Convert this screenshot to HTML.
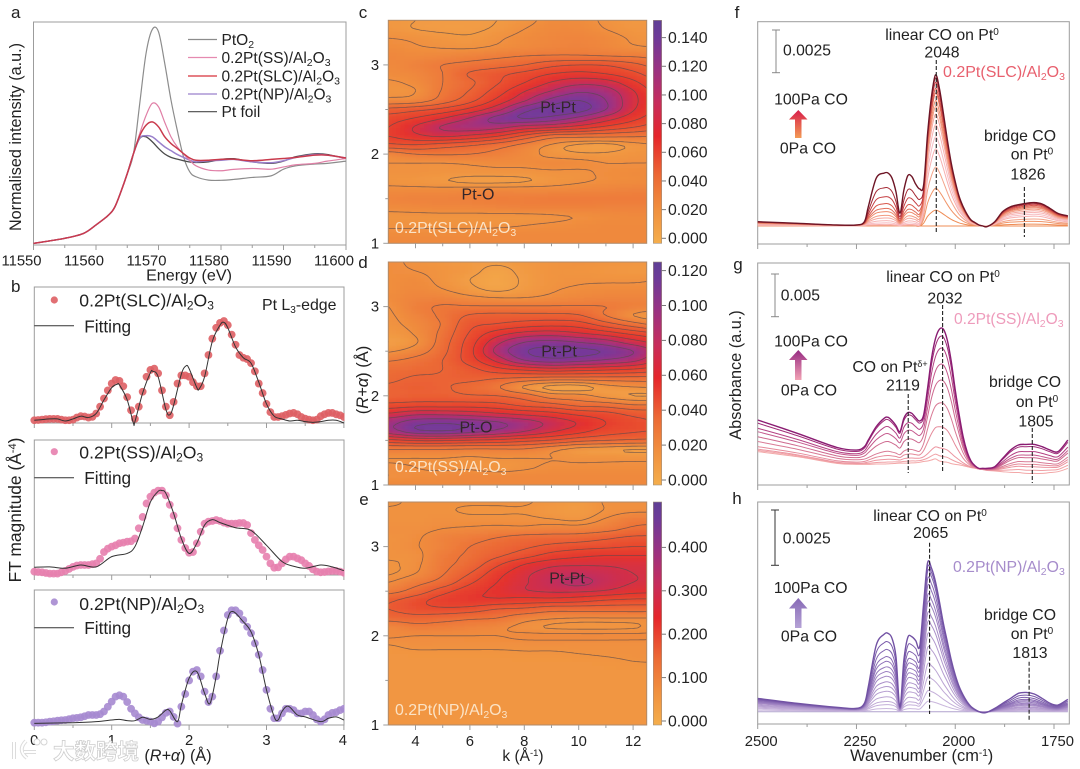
<!DOCTYPE html>
<html lang="en">
<head>
<meta charset="utf-8">
<title>Pt/Al2O3 XAFS and CO-DRIFTS figure</title>
<style>
html,body{margin:0;padding:0;background:#fff;}
svg{display:block;font-size:15.5px;}
text{font-family:"Liberation Sans","Noto Sans CJK SC",sans-serif;fill:#222;}
.mid{text-anchor:middle;}
.tick{font-size:14.8px;}
.cb{font-size:15.8px;}
.peak{font-size:16px;text-anchor:middle;fill:#33262a;}
.inlabel{font-size:15.9px;fill:#fbe3c6;}
.letter{font-size:17px;text-anchor:middle;}
.ann{font-size:15.8px;text-anchor:middle;}
</style>
</head>
<body>
<svg id="fig" xmlns="http://www.w3.org/2000/svg" width="1080" height="769" viewBox="0 0 1080 769">
<defs>
<filter id="soft" x="-5%" y="-5%" width="110%" height="110%"><feGaussianBlur stdDeviation="1.4"/></filter>
<clipPath id="clip-c"><rect x="388.3" y="20.3" width="258.4" height="223"/></clipPath>
<clipPath id="clip-d"><rect x="388.3" y="262" width="258.4" height="223"/></clipPath>
<clipPath id="clip-e"><rect x="388.3" y="502" width="258.4" height="223"/></clipPath>
<clipPath id="clip-b"><rect x="30" y="280" width="314.5" height="460"/></clipPath>
<clipPath id="clip-spec"><rect x="757.7" y="15" width="311.6" height="720"/></clipPath>
<linearGradient id="arrow-f" x1="0" y1="0" x2="0" y2="1"><stop offset="0" stop-color="#D81E4A"/><stop offset="1" stop-color="#F29A55"/></linearGradient>
<linearGradient id="arrow-g" x1="0" y1="0" x2="0" y2="1"><stop offset="0" stop-color="#962A82"/><stop offset="1" stop-color="#F2A2B4"/></linearGradient>
<linearGradient id="arrow-h" x1="0" y1="0" x2="0" y2="1"><stop offset="0" stop-color="#876AB6"/><stop offset="1" stop-color="#B5A2D6"/></linearGradient>
</defs>

<!-- panel letters -->
<text class="letter" x="15.7" y="18">a</text>
<text class="letter" x="15.7" y="292">b</text>
<text class="letter" x="363" y="18">c</text>
<text class="letter" x="363" y="268">d</text>
<text class="letter" x="364" y="505">e</text>
<text class="letter" x="737" y="18">f</text>
<text class="letter" x="738" y="270">g</text>
<text class="letter" x="737" y="504">h</text>

<g id="panel-a"></g>
<g id="panel-b"></g>
<g id="panel-c"></g>
<g id="panel-d"></g>
<g id="panel-e"></g>
<g id="panel-f"></g>
<g id="panel-g"></g>
<g id="panel-h"></g>

<!-- panel a text -->
<text class="mid" x="189" y="280.5" font-size="16.1">Energy (eV)</text>
<text class="mid" font-size="16.2" transform="translate(21,137) rotate(-90)">Normalised intensity (a.u.)</text>
<g>
<line x1="188" x2="217" y1="39.5" y2="39.5" stroke="#8c8c8c" stroke-width="1.2"/>
<text x="221.5" y="45">PtO<tspan dy="3" font-size="10.5">2</tspan></text>
<line x1="188" x2="217" y1="57.5" y2="57.5" stroke="#E58AB0" stroke-width="1.2"/>
<text x="221.5" y="63">0.2Pt(SS)/Al<tspan dy="3" font-size="10.5">2</tspan><tspan dy="-3">O</tspan><tspan dy="3" font-size="10.5">3</tspan></text>
<line x1="188" x2="217" y1="76" y2="76" stroke="#D8303A" stroke-width="1.2"/>
<text x="221.5" y="81.5">0.2Pt(SLC)/Al<tspan dy="3" font-size="10.5">2</tspan><tspan dy="-3">O</tspan><tspan dy="3" font-size="10.5">3</tspan></text>
<line x1="188" x2="217" y1="94" y2="94" stroke="#9A80CC" stroke-width="1.2"/>
<text x="221.5" y="99.5">0.2Pt(NP)/Al<tspan dy="3" font-size="10.5">2</tspan><tspan dy="-3">O</tspan><tspan dy="3" font-size="10.5">3</tspan></text>
<line x1="188" x2="217" y1="111.7" y2="111.7" stroke="#4a4a4a" stroke-width="1.2"/>
<text x="221.5" y="117">Pt foil</text>
</g>

<!-- panel b text -->
<text x="79.3" y="306.5" font-size="17.6">0.2Pt(SLC)/Al<tspan dy="3" font-size="12">2</tspan><tspan dy="-3">O</tspan><tspan dy="3" font-size="12">3</tspan></text>
<text x="84.3" y="332.5" font-size="17.2">Fitting</text>
<text x="262" y="310" font-size="15.9">Pt L<tspan dy="3" font-size="10">3</tspan><tspan dy="-3">-edge</tspan></text>
<text x="79.3" y="458.5" font-size="17.6">0.2Pt(SS)/Al<tspan dy="3" font-size="12">2</tspan><tspan dy="-3">O</tspan><tspan dy="3" font-size="12">3</tspan></text>
<text x="84.3" y="484" font-size="17.2">Fitting</text>
<text x="79.3" y="610" font-size="17.6">0.2Pt(NP)/Al<tspan dy="3" font-size="12">2</tspan><tspan dy="-3">O</tspan><tspan dy="3" font-size="12">3</tspan></text>
<text x="84.3" y="634" font-size="17.2">Fitting</text>
<text class="mid" x="178" y="761" font-size="16.2">(<tspan font-style="italic">R+α</tspan>) (Å)</text>
<text class="mid" font-size="17.4" transform="translate(21,510) rotate(-90)">FT magnitude (Å<tspan dy="-5" font-size="11">-4</tspan><tspan dy="5">)</tspan></text>

<!-- heatmap text -->
<g id="heat-labels">
<text class="peak" x="558" y="112.5">Pt-Pt</text>
<text class="peak" x="478" y="199.5">Pt-O</text>
<text class="inlabel" x="395" y="233">0.2Pt(SLC)/Al<tspan dy="3" font-size="10.5">2</tspan><tspan dy="-3">O</tspan><tspan dy="3" font-size="10.5">3</tspan></text>
<text class="peak" x="559" y="356.5">Pt-Pt</text>
<text class="peak" x="476" y="432.5">Pt-O</text>
<text class="inlabel" x="395" y="472">0.2Pt(SS)/Al<tspan dy="3" font-size="10.5">2</tspan><tspan dy="-3">O</tspan><tspan dy="3" font-size="10.5">3</tspan></text>
<text class="peak" x="567" y="583.5">Pt-Pt</text>
<text class="inlabel" x="395" y="715">0.2Pt(NP)/Al<tspan dy="3" font-size="10.5">2</tspan><tspan dy="-3">O</tspan><tspan dy="3" font-size="10.5">3</tspan></text>
<text class="mid" transform="translate(368,380) rotate(-90)" font-size="16.5">(<tspan font-style="italic">R+α</tspan>) (Å)</text>
<text class="mid" x="523" y="761" font-size="15.5">k (Å<tspan dy="-5" font-size="9.5">-1</tspan><tspan dy="5">)</tspan></text>
</g>

<!-- panel f annotations -->
<g>
<line x1="776" x2="776" y1="30" y2="72.7" stroke="#888"/>
<line x1="772" x2="780" y1="30" y2="30" stroke="#888"/>
<line x1="772" x2="780" y1="72.7" y2="72.7" stroke="#888"/>
<text x="783" y="55.5" font-size="15.7">0.0025</text>
<text class="ann" x="811" y="104.5">100Pa CO</text>
<path d="M798.3 110 L807.5 119.5 L801.5 119.5 L801.5 138 L795 138 L795 119.5 L789 119.5 Z" fill="url(#arrow-f)"/>
<text class="ann" x="808" y="153.5">0Pa CO</text>
<text class="ann" x="942" y="40">linear CO on Pt<tspan dy="-5" font-size="10">0</tspan></text>
<text class="ann" x="942" y="57.5">2048</text>
<text x="943" y="77" font-size="16" style="fill:#E8606E">0.2Pt(SLC)/Al<tspan dy="3" font-size="10.5">2</tspan><tspan dy="-3">O</tspan><tspan dy="3" font-size="10.5">3</tspan></text>
<text class="ann" x="1020" y="141">bridge CO</text>
<text class="ann" x="1032" y="159.5">on Pt<tspan dy="-5" font-size="10">0</tspan></text>
<text class="ann" x="1028" y="179.5">1826</text>
</g>

<!-- panel g annotations -->
<g>
<line x1="775" x2="775" y1="274" y2="316.7" stroke="#888"/>
<line x1="771" x2="779" y1="274" y2="274" stroke="#888"/>
<line x1="771" x2="779" y1="316.7" y2="316.7" stroke="#888"/>
<text x="780.7" y="300.5" font-size="15.7">0.005</text>
<text class="ann" x="811" y="346.5">100Pa CO</text>
<path d="M798.3 350 L807.5 360 L801.5 360 L801.5 380 L795 380 L795 360 L789 360 Z" fill="url(#arrow-g)"/>
<text class="ann" x="809" y="395.5">0Pa CO</text>
<text class="ann" x="943" y="282">linear CO on Pt<tspan dy="-5" font-size="10">0</tspan></text>
<text class="ann" x="945" y="303.5">2032</text>
<text x="954" y="324" font-size="15.6" style="fill:#EE9BBB">0.2Pt(SS)/Al<tspan dy="3" font-size="10.5">2</tspan><tspan dy="-3">O</tspan><tspan dy="3" font-size="10.5">3</tspan></text>
<text class="ann" x="890" y="372">CO on Pt<tspan dy="-5" font-size="9">δ+</tspan></text>
<text class="ann" x="903" y="390.5">2119</text>
<text class="ann" x="1025" y="387">bridge CO</text>
<text class="ann" x="1037" y="407">on Pt<tspan dy="-5" font-size="10">0</tspan></text>
<text class="ann" x="1036" y="426.5">1805</text>
<text class="mid" transform="translate(741,375) rotate(-90)" font-size="16.3">Absorbance (a.u.)</text>
</g>

<!-- panel h annotations -->
<g>
<line x1="775" x2="775" y1="510" y2="565.3" stroke="#333"/>
<line x1="771" x2="779" y1="510" y2="510" stroke="#333"/>
<line x1="771" x2="779" y1="565.3" y2="565.3" stroke="#333"/>
<text x="782.7" y="543.5" font-size="15.7">0.0025</text>
<text class="ann" x="810.7" y="593">100Pa CO</text>
<path d="M798.3 598 L807.5 608.5 L801.5 608.5 L801.5 628 L795 628 L795 608.5 L789 608.5 Z" fill="url(#arrow-h)"/>
<text class="ann" x="809" y="641.5">0Pa CO</text>
<text class="ann" x="930" y="521">linear CO on Pt<tspan dy="-5" font-size="10">0</tspan></text>
<text class="ann" x="930.7" y="538">2065</text>
<text x="953" y="572" font-size="15.8" style="fill:#A68CCB">0.2Pt(NP)/Al<tspan dy="3" font-size="10.5">2</tspan><tspan dy="-3">O</tspan><tspan dy="3" font-size="10.5">3</tspan></text>
<text class="ann" x="1020" y="620">bridge CO</text>
<text class="ann" x="1032" y="639">on Pt<tspan dy="-5" font-size="10">0</tspan></text>
<text class="ann" x="1030" y="658">1813</text>
<text class="mid" x="921.7" y="761" font-size="16.4">Wavenumber (cm<tspan dy="-5" font-size="10">-1</tspan><tspan dy="5">)</tspan></text>
</g>

<!-- watermark -->
<g id="watermark">
<path d="M14 742 L14 759 M26 741 Q17 750 27 758 M24 752 L36 752" fill="none" stroke="#dcdcdc" stroke-width="4"/>
<path d="M14 742 L14 759 M26 741 Q17 750 27 758 M24 752 L36 752" fill="none" stroke="#fff" stroke-width="2"/>
<circle cx="37" cy="742" r="3" fill="#fff" stroke="#d5d5d5"/>
<circle cx="44" cy="742" r="3" fill="#fff" stroke="#d5d5d5"/>
<text x="53" y="759" font-size="21.5" font-weight="700" style='font-family:"Noto Sans CJK SC",sans-serif;fill:#fff;stroke:#cfcfcf;stroke-width:.8'>大数跨境</text>
</g>
</svg>

<script>
/* ---------- panel a data: energy (eV) and normalised intensity (% of axis height) ---------- */
const aEnergy=[11550,11555,11558,11560,11562,11563,11564,11565,11566,11567,11568,11569,11570,11571,11572,11573,11574,11575,11576,11578,11580,11582,11585,11588,11590,11592,11595,11597,11600];
const aPtO2=[0.7,3,5.2,9,13.4,17,24,32,41,63.5,85.8,96.6,95.6,81.4,65,51.5,39.6,32.8,30.6,29.1,29,29.4,30.3,31,34,35.5,36.3,36.6,37.6];
const aSS=[0.7,3,5.2,9,13.4,17,24,32,41,50,58,63.5,62,55,48.5,44,40.8,38,35.5,33.6,33.3,33.9,34.3,34,35,36,36.6,37.6,38.8];
const aSLC=[0.7,3,5.2,9,13.4,17,24,32,41,49,53.7,55.2,53,48.5,45.5,43.3,41,39,38,38,38.4,38.5,37.8,38.4,38.8,39.3,40.3,40.3,39];
const aNP=[0.7,3,5.2,9,13.4,17,24,32,41,48,49,48.5,46.3,44,42.3,40.6,39.3,38,37.3,37.8,38,38.4,37.3,36.9,37.8,39.3,40.6,40.3,39];
const aFoil=[0.7,3,5.2,9,13.4,17,24,32,41,47.8,48.5,46.3,43.3,40.8,39.3,38.5,37.8,37.2,37,37.3,38.4,38.7,37.3,36.6,37.6,39.6,40.9,40.6,38.8];
const aTickMajor=[11550,11560,11570,11580,11590,11600];
const aTickMinor=[11555,11565,11575,11585,11595];

/* ---------- panel b data: R (Å) and FT magnitude (% of sub-panel height) ---------- */
const bDotSLC=[2,2.2,2.5,2.8,3,3,3,2.5,2,2,2.5,4,5,4.8,4,4.5,7,12,18,24,29,31.6,31,27,19,9.4,3,12,23,34,39,40,36.5,24,12,5.7,15.5,29,35,35,34,30,27,27,36.5,50,62,70,73.6,75,72,65,57.5,50,48,47,44,38,29,22,14,8,4.4,4.4,5,6,7,7.4,6.4,4.4,3.2,2.5,2,2.5,5,6.4,7.4,7.4,6.4,5.7,4.4];
const bDotSS=[2.5,2.2,2,1.5,1,1,1,2,3,4.5,6,7,7.4,7.4,7.4,8,8.6,12,17,19.5,21,22,23.5,24,24.7,25,27,34.6,43,53,58,61,62.5,62.5,59,52,44,34.6,26,20,16.5,17,23.5,32,38,39.5,40,40.7,40,38.8,38,38,38,38.5,38.5,37,31,26,22,18.5,13.6,8.6,5.4,5.7,8.6,11.6,13.6,13.6,12.3,11,8.6,6.7,4.2,2.5,2,2.2,2.7,3,3,2.5,1.7];
const bDotNP=[1.7,1.7,1.7,2,2.5,2.8,3.2,3.5,3.7,4.3,5,5.3,5.7,6.5,7.4,7.4,7.4,8,10,13.5,17.3,21,22,21,17,12,8.6,5.7,3.7,3.2,2.5,1.2,2.5,5.7,9,10,6,1,13.6,23,33,39.5,40.7,36,24.7,17,21,36,55,70,81.5,85,85,82.7,77.8,72.8,68,60.5,52,40.7,26,12,5,5,8.6,12,12,11,8.6,8.6,10,10,7.4,4.2,2.5,4.2,7.4,9,9.5,11,12];
const bFitRSLC=[0,.1,.2,.3,.4,.5,.6,.7,.8,.9,1,1.07,1.1,1.2,1.28,1.3,1.4,1.5,1.53,1.6,1.7,1.75,1.8,1.9,1.96,2,2.1,2.13,2.2,2.3,2.4,2.45,2.5,2.6,2.7,2.8,2.9,3,3.1,3.2,3.3,3.4,3.5,3.6,3.7,3.8,3.9,4];
const bFitSLC=[2,2.5,3,3,1.5,3,5,4,7,17,26,28.5,28,17,0,1,22,37,38,34,10,6,13,36,42,40,26,25,34,60,72,74,70,56,48,44,30,14,5,3,1.5,2,1,.5,1,2,2,0];
const bFitRSS=[0,.2,.4,.6,.8,1,1.2,1.3,1.4,1.5,1.6,1.65,1.7,1.8,1.9,2,2.1,2.2,2.3,2.4,2.6,2.8,3,3.2,3.35,3.5,3.7,3.85,4];
const bFitSS=[5.7,6,5,7.4,6,13.6,16,21,36,54,62,62.5,60.5,45.7,27,16,23.5,37,41,38.8,35,33,22,10,6.5,5,7.4,6,3.2];
const bFitRNP=[0,.5,.8,1,1.1,1.2,1.3,1.4,1.5,1.6,1.7,1.75,1.85,1.9,2,2.1,2.2,2.27,2.35,2.4,2.5,2.57,2.7,2.8,2.9,3,3.1,3.15,3.2,3.28,3.4,3.5,3.7,3.8,3.9,4];
const bFitNP=[1.2,1.7,2.5,3.7,4.2,3.2,3.2,5.7,4.2,6,11,10.5,2.5,14.8,34.6,39.5,23.5,16,36,53,79,84,76.5,69,52,26,6,3.7,10,14,7.4,6,2.5,5,6,3.7];
const bTickMajor=[0,1,2,3,4];
const bTickMinor=[.5,1.5,2.5,3.5];

/* ---------- wavelet data: rows R = 3.5 … 1.0 (step 0.1), columns k = 3 … 13; values in % of colour-bar maximum ---------- */
const heatC=[
[11,10,9,9,10,13,17,17,14,11,11],
[12,10,9,9,11,15,18,18,15,12,12],
[15,14,12,11,14,17,19,20,18,14,12],
[17,15.5,14.5,14,16,18,20,21,19,16,15],
[19,18,19,21,23,25,26,26,25,24,22],
[18,21,25,28,31,35,42,45,44,38,30],
[17,19,25,36,42,48,55,58,55,48,38],
[14,17,25,33,44,55,66,72,70,58,45],
[13,15,26,36,50,65,76,84,80,66,50],
[18,20,30,42,58,74,88,93,85,68,54],
[38,42,48,58,72,90,96,96,85,66,52],
[50,56,65,76,88,93,90,82,70,58,48],
[55,66,76,80,78,70,66,60,52,45,38],
[55,62,66,62,55,42,30,28,27,26,25],
[42,44,40,36,30,22,14,9,8,12,15],
[20,25,26,25,22,18,13,11,11,13,14],
[15,15,15,16,17,17,18,17,15,15,15],
[14,14,13,13,13,13,14,14,16,17,18],
[13,12,10.5,8.5,8.5,9.5,12,14,16,17,18],
[17,17,17,18,18,18,18,19,20,21,21],
[20,21,21,22,23,23,24,24,24,24,24],
[17,18,19,19,20,21,21,21,21,21,21],
[13,13,13,13,13,13,14,15.5,17,18,18],
[14,14,14,14,14,15,16,17,18,18,18],
[17,17,17,17,18,18,18,18,18,18,18],
[18,18,18,18,18,18,18,18,18,18,18]];
const heatD=[
[16,14,12,10,9,11,13,14,13,12,12],
[16,15,13,10,6,10,13,13,12,11,11],
[16,17,13,8,5,9,13,14,14,14,15],
[16,18,15,10,6,10,14,16,17,17,17],
[17,20,20,17,15,15,17,19,20,20,20],
[15,22,26,26,26,26,26,26,25,22,20],
[14,20,27,36,38,38,38,36,25,15,10],
[13,18,26,42,46,50,52,50,40,30,22],
[11,16,28,46,60,68,70,66,60,52,45],
[8,14,30,50,72,85,88,85,80,70,62],
[14,20,32,52,78,92,95,95,92,85,72],
[24,28,35,50,68,85,90,88,84,78,65],
[30,32,35,42,52,58,62,60,58,55,50],
[33,36,36,38,36,34,32,32,32,32,32],
[36,38,36,32,26,14,6,5,12,15,16],
[36,38,38,36,35,30,20,18,12,8,8],
[48,50,50,50,48,42,38,32,30,25,25],
[66,72,72,70,66,62,58,52,48,42,40],
[82,90,92,90,86,80,72,64,55,48,45],
[80,90,92,88,82,75,66,58,50,46,44],
[52,56,56,54,52,48,44,38,35,33,32],
[25,25,25,24,24,24,18,12,10,8,8],
[15,15,15,14,15,15,15,14,14,14,14],
[16,15,14,14,12,14,16,16,16,16,16],
[15,16,17,18,18,18,18,18,18,18,18],
[18,18,18,18,18,18,18,18,18,18,18]];
const heatE=[
[13,14,14,14,14,14,12,10,14,15,15],
[14,14,14,13,13,13,11,10,14,16,16],
[14,14,15,15,15,15,14,13,18,24,24],
[15,15,17,18,19,19,21,21,24,30,32],
[14,16,21,24,28,32,33,34,38,42,42],
[14,16.5,21,28,33,38,43,46,48,50,50],
[14,15,24,30,38,46,54,58,60,60,60],
[13,15.5,25,33,48,60,66,67,67,66,66],
[13,17,27,40,56,66,71,73,71,68,67],
[17,24,33,48,60,67,73,77,72,68,66],
[24,33,46,56,62,67,69,69,67,63,62],
[38,46,54,58,58,56,56,54,50,48,48],
[40,46,48,46,40,38,33,33,33,33,33],
[33,35,33,30,28,21,18,17,17,17,17],
[19,24,23,21,19,15,13,12.5,12.5,13,15],
[18,17,17,17,17,18,18,18,18,18,18],
[13.5,15,15,15,15,15,15,15,15,15,15],
[12,12.5,12.5,12.5,12.5,13,13,13.5,14,14.5,15],
[12,12,12,12,12,12,12,12,12.5,13.3,13.5],
[12,12,12,12,12,12,12,12,12,12,12],
[12,12,12,12,12,12,12,12,12,12,12],
[12,12,12,12,12,12,12,12,12,12,12],
[12,12,12,12,12,12,12,12,12,12,12],
[12,12,12,12,12,12,12,12,12,12,12],
[12,12,12,12,12,12,12,12,12,12,12],
[12,12,12,12,12,12,12,12,12,12,12]];
const levelsC=[10,15,25,35,45,55,65,75,85,93];
const levelsD=[8,15,25,35,45,55,65,75,85,93];
const levelsE=[13.5,17,28,40,50,60,68,75];
const barTicksC=[0,0.02,0.04,0.06,0.08,0.1,0.12,0.14];
const barTicksD=[0,0.02,0.04,0.06,0.08,0.1,0.12];
const barTicksE=[0,0.1,0.2,0.3,0.4];
const barPos=[0,.15,.3,.48,.63,.78,.92,1];
const barCol=["#F4AE4C","#F0903F","#EC6A35","#E5262B","#C72D5C","#9A3282","#6F3A98","#5F3F96"];
const fieldPos=[0,.15,.3,.5,.62,.72,.82,.92,1];
const fieldCol=["#F4AE4C","#F0903F","#EC6F37","#E8482E","#E4322E","#C92E55","#A13080","#7A3898","#6A3C9A"];

/* ---------- DRIFTS data: wavenumber (cm-1), absorbance (milli-absorbance) ---------- */
const wn=[2500,2400,2300,2250,2230,2220,2200,2180,2170,2160,2150,2140,2130,2120,2110,2100,2090,2080,2070,2060,2050,2040,2030,2020,2010,2000,1990,1980,1970,1960,1950,1940,1930,1920,1900,1880,1860,1840,1820,1800,1780,1760,1740,1715];
const fFinal=[.25,.16,.06,.06,.25,1.13,2.8,3.1,3.1,2.8,2,.75,2.1,2.95,2.9,2.45,2.17,2.4,5.4,7.6,8.85,8.05,6.6,5.05,3.67,2.6,1.72,1.13,.68,.35,.2,.06,0,-.04,.25,.84,1.13,1.25,1.33,1.37,1.29,1.03,.74,.59];
const fWing=[1,.95,.9,.85,.8,.7,.6,.5,.4,.3,.2,.1,.05,.02,0];
const fGas=[1,.72,.55,.42,.33,.27,.2,.15,.1,.06,.03,.01,0,0,0];
const fLinear=[1,.98,.95,.91,.88,.83,.79,.74,.67,.59,.51,.39,.25,.105,0];
const fBridge=[1,.97,.93,.88,.83,.78,.72,.65,.58,.5,.42,.3,.2,.08,0];
const fColours=["#6E1525","#A52A35","#C53E42","#D8584C","#E2705C","#EE8A6B","#F29A80","#F5A8A0","#F7B5B5","#F7BEC4","#F8B0B0","#F3A48A","#F09468","#EF8C55","#EF8C55"];
const gFinal=[6.06,4.5,2.85,2.54,2.93,3.71,5.28,6.26,6.37,5.98,5.4,4.69,6.26,6.92,6.84,6.33,5.94,6.65,9.78,13.3,15.6,16.7,16.7,15.4,12.9,9.58,6.65,4.1,2.35,1.25,.7,.39,.39,.39,.59,1.56,2.54,3.13,3.2,3.2,2.93,2.54,2.35,3.71];
const gFirst=[2.35,1.76,.98,.86,.86,.86,.9,.9,.92,.94,.98,1,1,1,1.03,1.05,1.1,1.2,1.25,1.37,1.5,1.25,1.15,1.1,.95,.86,.8,.7,.6,.47,.4,.3,.25,.15,.08,0,-.08,-.1,-.2,-.2,-.2,-.1,0,.39];
const gWing=[1,.9,.74,.63,.47,.32,.16,.08,.04,0];
const gGas=[1,.95,.8,.65,.48,.27,.18,.1,.04,0];
const gLinear=[1,.94,.85,.73,.61,.44,.26,.1,.04,0];
const gBridge=[1,.92,.75,.63,.54,.4,.31,.23,.11,0];
const gColours=["#8A1C72","#A02C78","#B44284","#C4588C","#CE6A8F","#D97B96","#E58A9A","#EC95A0","#F0A0A5","#F3A8A8"];
const hFinal=[.6,.38,.2,.15,.38,1.13,3,3.5,3.54,3.31,2.48,.23,2.33,3.36,3.39,3.21,2.94,4.89,6.73,6.48,5.87,4.97,3.99,3.16,2.33,1.66,1.13,.75,.45,.23,.1,0,-.05,-.03,.15,.38,.6,.83,.87,.8,.6,.38,.3,.56];
const hWing=[1,.95,.9,.86,.8,.75,.7,.65,.6,.52,.45,.38,.3,.22,.12,0];
const hGas=[1,.89,.79,.7,.64,.57,.51,.45,.38,.32,.26,.19,.13,.09,.04,0];
const hLinear=[1,.97,.94,.89,.84,.78,.73,.66,.6,.52,.43,.32,.23,.14,.07,0];
const hBridge=[1,.86,.74,.64,.57,.5,.43,.38,.33,.26,.22,.17,.12,.09,.05,0];
const hColours=["#7252A4","#7A5BAA","#8163AF","#8869B3","#8F71B8","#9679BD","#9D81C1","#A488C5","#AB90C9","#B198CD","#B69ED0","#BBA4D3","#C0AAD6","#C5B0DA","#CAB7DD","#B0A2CE"];
const specTickMajor=[2500,2250,2000,1750];
const specTickMinor=[2375,2125,1875];

/* ---------- helpers ---------- */
const NS="http://www.w3.org/2000/svg";
const fig=document.getElementById("fig");
function node(tag,parent,attrs){
  const el=document.createElementNS(NS,tag);
  for(const a in attrs){el.setAttribute(a,attrs[a]);}
  parent.appendChild(el);
  return el;
}
function drawLine(parent,x1,y1,x2,y2,stroke,w,name){
  const el=node("line",parent,{x1:x1,y1:y1,x2:x2,y2:y2,stroke:stroke,"stroke-width":w});
  
  
  return el;
}
function drawText(parent,x,y,str,anchor,cls,name){
  const el=node("text",parent,{x:x,y:y,"text-anchor":anchor,class:cls});
  el.textContent=str;
  
  
  return el;
}
function frame(parent,x,y,w,h,name){
  const el=node("rect",parent,{x:x,y:y,width:w,height:h,fill:"none",stroke:"#9c9c9c","stroke-width":1});
  
  
  return el;
}
function smoothD(px){
  let d="M"+px[0][0].toFixed(2)+" "+px[0][1].toFixed(2);
  for(let i=0;i<px.length-1;i++){
    const p0=px[Math.max(i-1,0)],p1=px[i],p2=px[i+1],p3=px[Math.min(i+2,px.length-1)];
    const c1x=p1[0]+(p2[0]-p0[0])/6,c1y=p1[1]+(p2[1]-p0[1])/6;
    const c2x=p2[0]-(p3[0]-p1[0])/6,c2y=p2[1]-(p3[1]-p1[1])/6;
    d+="C"+c1x.toFixed(2)+" "+c1y.toFixed(2)+" "+c2x.toFixed(2)+" "+c2y.toFixed(2)+" "+p2[0].toFixed(2)+" "+p2[1].toFixed(2);
  }
  return d;
}
function curve(parent,xs,ys,xF,yF,stroke,w,name,opacity){
  const el=node("path",parent,{d:smoothD(xs.map((x,i)=>[xF(x),yF(ys[i])])),fill:"none",stroke:stroke,"stroke-width":w,"stroke-linejoin":"round"});
  if(opacity){el.setAttribute("opacity",opacity);}
  
  
  return el;
}

/* ---------- panel a ---------- */
(function(){
  const g=document.getElementById("panel-a");
  const xA=e=>33.5+(e-11550)/50*312.5;
  const yA=v=>245-v*2.23;
  frame(g,33.5,22,312.5,223,"plot-frame-a");
  aTickMajor.forEach(t=>{
    drawLine(g,xA(t),245,xA(t),250,"#9c9c9c",1,"x-tick-major-a");
    drawText(g,xA(t)-12,265.5,String(t),"middle","tick","x-tick-label-a");
  });
  aTickMinor.forEach(t=>{drawLine(g,xA(t),245,xA(t),248,"#9c9c9c",1,"x-tick-minor-a");});
  curve(g,aEnergy,aPtO2,xA,yA,"#8c8c8c",1.2,"line-pto2");
  curve(g,aEnergy,aFoil,xA,yA,"#4a4a4a",1.3,"line-foil");
  curve(g,aEnergy,aNP,xA,yA,"#9A80CC",1.5,"line-np");
  curve(g,aEnergy,aSS,xA,yA,"#E07FA6",1.2,"line-ss");
  curve(g,aEnergy,aSLC,xA,yA,"#C93A4C",1.5,"line-slc");
})();

/* ---------- panel b ---------- */
(function(){
  const g=document.getElementById("panel-b");
  const xB=r=>34.3+r*77.4;
  const panels=[
    {top:287,bot:423,dots:bDotSLC,fr:bFitRSLC,fit:bFitSLC,col:"#DE5F64",key:"slc",ly:325.7,dy:300},
    {top:440,bot:575,dots:bDotSS,fr:bFitRSS,fit:bFitSS,col:"#E77FAE",key:"ss",ly:477.7,dy:451.7},
    {top:590,bot:725,dots:bDotNP,fr:bFitRNP,fit:bFitNP,col:"#A68AD0",key:"np",ly:627.7,dy:602}
  ];
  const stepR=0.05;
  panels.forEach(p=>{
    const yB=v=>p.bot-v/100*(p.bot-p.top);
    frame(g,34.3,p.top,309.7,p.bot-p.top,"plot-frame-b-"+p.key);
    bTickMajor.forEach(t=>{drawLine(g,xB(t),p.bot,xB(t),p.bot+5,"#9c9c9c",1,"x-tick-major-b");});
    bTickMinor.forEach(t=>{drawLine(g,xB(t),p.bot,xB(t),p.bot+3,"#9c9c9c",1,"x-tick-minor-b");});
    const dg=node("g",g,{"clip-path":"url(#clip-b)"});
    
    
    p.dots.forEach((v,i)=>{
      const c=node("circle",dg,{cx:xB(i*stepR),cy:yB(v),r:3.9,fill:p.col,opacity:.9});
      
      
    });
    curve(g,p.fr,p.fit,xB,yB,"#333",1,"fit-line-"+p.key);
    drawLine(g,34.3,p.ly,74,p.ly,"#333",1,"fit-legend-line-"+p.key);
    const m=node("circle",g,{cx:54.3,cy:p.dy,r:3.6,fill:p.col,opacity:.9});
    
    
  });
  bTickMajor.forEach(t=>{drawText(g,xB(t)-(t===4?1:0),745,String(t),"middle","tick","x-tick-label-b");});
})();

/* ---------- wavelet panels ---------- */
function cmap(t){
  t=Math.max(0,Math.min(1,t));
  let i=0;
  while(i<fieldPos.length-2&&t>fieldPos[i+1]){i++;}
  const f=(t-fieldPos[i])/(fieldPos[i+1]-fieldPos[i]);
  const a=parseInt(fieldCol[i].slice(1),16),b=parseInt(fieldCol[i+1].slice(1),16);
  const ch=s=>Math.round(((a>>s)&255)*(1-f)+((b>>s)&255)*f);
  return "rgb("+ch(16)+","+ch(8)+","+ch(0)+")";
}
function cub(p0,p1,p2,p3,t){
  return p1+0.5*t*(p2-p0+t*(2*p0-5*p1+4*p2-p3+t*(3*(p1-p2)+p3-p0)));
}
function field(M,k,R){
  const rows=M.length,cols=M[0].length;
  const fx=Math.max(0,Math.min(cols-1.001,k-3)),fy=Math.max(0,Math.min(rows-1.001,(3.5-R)/0.1));
  const ix=Math.floor(fx),iy=Math.floor(fy),tx=fx-ix,ty=fy-iy;
  const col=[];
  for(let j=-1;j<=2;j++){
    const r=M[Math.max(0,Math.min(rows-1,iy+j))];
    col.push(cub(r[Math.max(0,ix-1)],r[ix],r[Math.min(cols-1,ix+1)],r[Math.min(cols-1,ix+2)],tx));
  }
  return cub(col[0],col[1],col[2],col[3],ty);
}
function drawWavelet(id,M,levels,top,bot,ticks,barZeroY,barPerUnit,labelDigits,key,showKLabels){
  const g=document.getElementById(id);
  const x0=388.3,x1=646.7;
  const xK=k=>x0+(k-3)*(x1-x0)/9.5;
  const kX=x=>3+(x-x0)*9.5/(x1-x0);
  const yR=R=>bot-(R-1)*(bot-top)/2.5;
  const Ry=y=>1+(bot-y)*2.5/(bot-top);
  /* heat cells */
  const clip=node("g",g,{"clip-path":"url(#clip-"+key+")"});
  
  
  const cells=node("g",clip,{filter:"url(#soft)"});
  
  
  const cs=4;
  for(let y=top-8;y<bot+8;y+=cs){
    for(let x=x0-8;x<x1+8;x+=cs){
      const v=field(M,kX(x+cs/2),Ry(y+cs/2));
      const r=node("rect",cells,{x:x,y:y,width:cs+.4,height:cs+.4,fill:cmap(v/100)});
      
      
    }
  }
  /* contours */
  const step=2;
  const nx=Math.ceil((x1-x0)/step),ny=Math.ceil((bot-top)/step);
  const Z=[];
  for(let j=0;j<=ny;j++){
    const row=[];
    for(let i=0;i<=nx;i++){row.push(field(M,kX(x0+i*step),Ry(top+j*step)));}
    Z.push(row);
  }
  levels.forEach(l=>{
    let d="";
    for(let j=0;j<ny;j++){
      for(let i=0;i<nx;i++){
        const a=Z[j][i],b=Z[j][i+1],c=Z[j+1][i+1],e=Z[j+1][i];
        const X=x0+i*step,Y=top+j*step,pts=[];
        if((a<l)!==(b<l)){pts.push([X+step*(l-a)/(b-a),Y]);}
        if((b<l)!==(c<l)){pts.push([X+step,Y+step*(l-b)/(c-b)]);}
        if((c<l)!==(e<l)){pts.push([X+step*(l-e)/(c-e),Y+step]);}
        if((e<l)!==(a<l)){pts.push([X,Y+step*(l-a)/(e-a)]);}
        for(let q=0;q+1<pts.length;q+=2){
          d+="M"+pts[q][0].toFixed(1)+" "+pts[q][1].toFixed(1)+"L"+pts[q+1][0].toFixed(1)+" "+pts[q+1][1].toFixed(1);
        }
      }
    }
    const p=node("path",clip,{d:d,fill:"none",stroke:"#5a4a4c","stroke-width":.8,opacity:.72});
    
    
  });
  frame(g,x0,top,x1-x0,bot-top,"plot-frame-"+key).setAttribute("stroke","#b08a6a");
  /* axes */
  [1,2,3].forEach(R=>{
    drawLine(g,x0-5,yR(R),x0,yR(R),"#9c9c9c",1,"y-tick-major-"+key);
    drawText(g,375,yR(R)+5,String(R),"middle","tick","y-tick-label-"+key);
  });
  [1.5,2.5].forEach(R=>{drawLine(g,x0-3,yR(R),x0,yR(R),"#9c9c9c",1,"y-tick-minor-"+key);});
  [4,6,8,10,12].forEach(k=>{
    drawLine(g,xK(k),bot,xK(k),bot+5,"#9c9c9c",1,"x-tick-major-"+key);
    if(showKLabels){drawText(g,xK(k),746,String(k),"middle","tick","x-tick-label-"+key);}
  });
  [5,7,9,11].forEach(k=>{drawLine(g,xK(k),bot,xK(k),bot+3,"#9c9c9c",1,"x-tick-minor-"+key);});
  /* colour bar */
  const gid="bar-"+key;
  const grad=node("linearGradient",fig.querySelector("defs"),{id:gid,x1:0,y1:1,x2:0,y2:0});
  barPos.forEach((p,i)=>{node("stop",grad,{offset:p,"stop-color":barCol[i]});});
  const bar=node("rect",g,{x:653.3,y:top,width:8.4,height:bot-top,fill:"url(#"+gid+")",stroke:"#a09080","stroke-width":.6});
  
  
  ticks.forEach(v=>{
    const y=barZeroY-v*barPerUnit;
    drawLine(g,661.7,y,666,y,"#777",1,"colour-bar-tick-"+key);
    drawText(g,668,y+5.3,v.toFixed(labelDigits),"start","cb","colour-bar-label-"+key);
  });
}
drawWavelet("panel-c",heatC,levelsC,20.3,243.3,barTicksC,238.3,1433.5,3,"c",false);
drawWavelet("panel-d",heatD,levelsD,262,485,barTicksD,480,1745,3,"d",false);
drawWavelet("panel-e",heatE,levelsE,502,725,barTicksE,721,434,3,"e",true);
/* keep wavelet labels above the heatmaps */
fig.appendChild(document.getElementById("heat-labels"));

/* ---------- DRIFTS panels ---------- */
function bandScale(w,a,b,c,d){
  if(w>=2240){return a;}
  if(w>=2215){return a+(b-a)*(2240-w)/25;}
  if(w>=2090){return b;}
  if(w>=2075){return b+(c-b)*(2090-w)/15;}
  if(w>=1960){return c;}
  if(w>=1900){return c+(d-c)*(1960-w)/60;}
  return d;
}
function drawSpectra(id,top,bot,zeroY,pxPerUnit,final,first,wing,gas,linear,bridge,colours,key,dashes,showLabels){
  const g=document.getElementById(id);
  const xW=w=>757.7+(2500-w)/250*98.77;
  const yA=v=>zeroY-v*pxPerUnit;
  frame(g,757.7,top,311.6,bot-top,"plot-frame-"+key);
  specTickMajor.forEach(t=>{
    drawLine(g,xW(t),bot,xW(t),bot+5,"#9c9c9c",1,"x-tick-major-"+key);
    if(showLabels){drawText(g,xW(t)+3.5,746,String(t),"middle","tick","x-tick-label-"+key);}
  });
  specTickMinor.forEach(t=>{drawLine(g,xW(t),bot,xW(t),bot+3,"#9c9c9c",1,"x-tick-minor-"+key);});
  const cg=node("g",g,{"clip-path":"url(#clip-spec)"});
  
  
  for(let i=colours.length-1;i>=0;i--){
    const ys=wn.map((w,j)=>{
      const b=first?first[j]:0;
      return b+bandScale(w,wing[i],gas[i],linear[i],bridge[i])*(final[j]-b);
    });
    curve(cg,wn,ys,xW,yA,colours[i],i===0?1.4:1,"spectrum-"+key);
  }
  dashes.forEach(dh=>{
    const el=drawLine(g,xW(dh[0]),dh[1],xW(dh[0]),dh[2],"#222",1.1,"peak-marker-"+key);
    el.setAttribute("stroke-dasharray","4 2");
  });
}
drawSpectra("panel-f",21.7,244,226,17.07,fFinal,null,fWing,fGas,fLinear,fBridge,fColours,"f",[[2048,60,233],[1825,187,237]],false);
drawSpectra("panel-g",263,485,471.7,8.533,gFinal,gFirst,gWing,gGas,gLinear,gBridge,gColours,"g",[[2032,305,473],[2119,394,473],[1805,428,483]],false);
drawSpectra("panel-h",502,724,711.7,22.13,hFinal,null,hWing,hGas,hLinear,hBridge,hColours,"h",[[2065,542.7,714],[1813,661.7,720.7]],true);
/* keep annotation text and watermark above the marks */
fig.appendChild(document.getElementById("watermark"));
</script>
</body>
</html>
